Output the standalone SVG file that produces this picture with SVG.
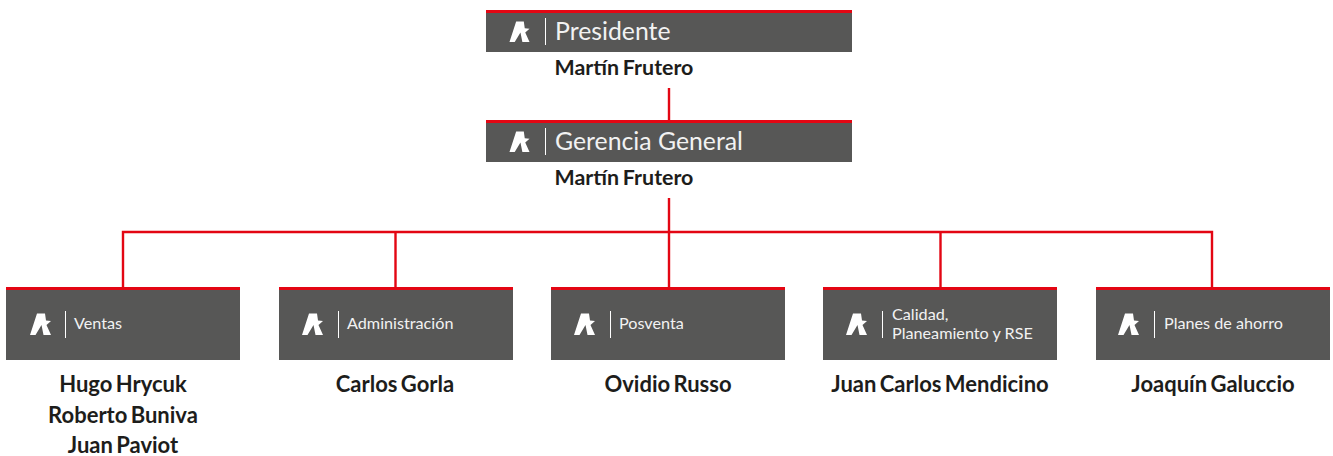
<svg xmlns="http://www.w3.org/2000/svg" width="1333" height="456" viewBox="0 0 1333 456">
<style>
.box{fill:#575756}
.top{fill:#e30613}
.sep{stroke:#fff;stroke-width:1;fill:none}
.con{stroke:#e30613;stroke-width:2.4;fill:none}
text{font-family:Lato,"Liberation Sans",sans-serif}
.t1{fill:#f2f2f2;font-size:24.800px;font-weight:400}
.t2{fill:#f2f2f2;font-size:16.200px;font-weight:400}
.n{fill:#1d1d1b;font-size:21.400px;font-weight:700;text-anchor:middle;word-spacing:-1.500px}
.n2{fill:#1d1d1b;font-size:22px;font-weight:700;text-anchor:middle;word-spacing:-2px}
</style>
<defs>
<symbol id="logo" viewBox="0 0 21 22" overflow="visible">
<path fill="#fff" d="M0 22 L7 0.500 L15 0.500 L16 7.500 L21 8 L16.500 12 L21 22 L13.500 22 L11.500 12 L5.500 22 Z"/>
</symbol>
</defs>
<g id="connectors">
<path class="con" d="M669 88V122M669 198V232M123 288V232H1212V288M395.500 232V288M669 232V288M940.500 232V288"/>
</g>
<g id="presidente">
<rect class="box" x="486" y="13" width="366" height="39"/><rect class="top" x="486" y="10" width="366" height="3"/>
<use href="#logo" x="509" y="21" width="21" height="21"/>
<path class="sep" d="M545.500 18V45"/>
<text class="t1" x="555" y="40">Presidente</text>
<text class="n" x="624" y="75">Martín Frutero</text>
</g>
<g id="gerencia">
<rect class="box" x="486" y="123" width="366" height="39"/><rect class="top" x="486" y="120" width="366" height="3"/>
<use href="#logo" x="509" y="131" width="21" height="21"/>
<path class="sep" d="M545.500 128V155"/>
<text class="t1" x="555" y="150">Gerencia General</text>
<text class="n" x="624" y="185">Martín Frutero</text>
</g>
<g id="ventas">
<rect class="box" x="6" y="289" width="234" height="71"/><rect class="top" x="6" y="287" width="234" height="3"/>
<use href="#logo" x="30" y="313" width="21" height="22"/>
<path class="sep" d="M65.500 311V338"/>
<text class="t2" x="74" y="329">Ventas</text>
<text class="n2" x="123" y="392">Hugo Hrycuk</text>
<text class="n2" x="123" y="422.500">Roberto Buniva</text>
<text class="n2" x="123" y="452.500">Juan Paviot</text>
</g>
<g id="administracion">
<rect class="box" x="279" y="289" width="234" height="71"/><rect class="top" x="279" y="287" width="234" height="3"/>
<use href="#logo" x="302" y="313" width="21" height="22"/>
<path class="sep" d="M338.500 311V338"/>
<text class="t2" x="347" y="329">Administración</text>
<text class="n2" x="395" y="392">Carlos Gorla</text>
</g>
<g id="posventa">
<rect class="box" x="551" y="289" width="234" height="71"/><rect class="top" x="551" y="287" width="234" height="3"/>
<use href="#logo" x="574" y="313" width="21" height="22"/>
<path class="sep" d="M610.500 311V338"/>
<text class="t2" x="619" y="329">Posventa</text>
<text class="n2" x="668" y="392">Ovidio Russo</text>
</g>
<g id="calidad">
<rect class="box" x="823" y="289" width="234" height="71"/><rect class="top" x="823" y="287" width="234" height="3"/>
<use href="#logo" x="846" y="313" width="21" height="22"/>
<path class="sep" d="M882.500 311V338"/>
<text class="t2" x="892" y="320">Calidad,</text>
<text class="t2" x="892" y="339">Planeamiento y RSE</text>
<text class="n2" x="940" y="392">Juan Carlos Mendicino</text>
</g>
<g id="planes">
<rect class="box" x="1096" y="289" width="234" height="71"/><rect class="top" x="1096" y="287" width="234" height="3"/>
<use href="#logo" x="1118" y="313" width="21" height="22"/>
<path class="sep" d="M1154.500 311V338"/>
<text class="t2" x="1164" y="329">Planes de ahorro</text>
<text class="n2" x="1213" y="392">Joaquín Galuccio</text>
</g>
</svg>
